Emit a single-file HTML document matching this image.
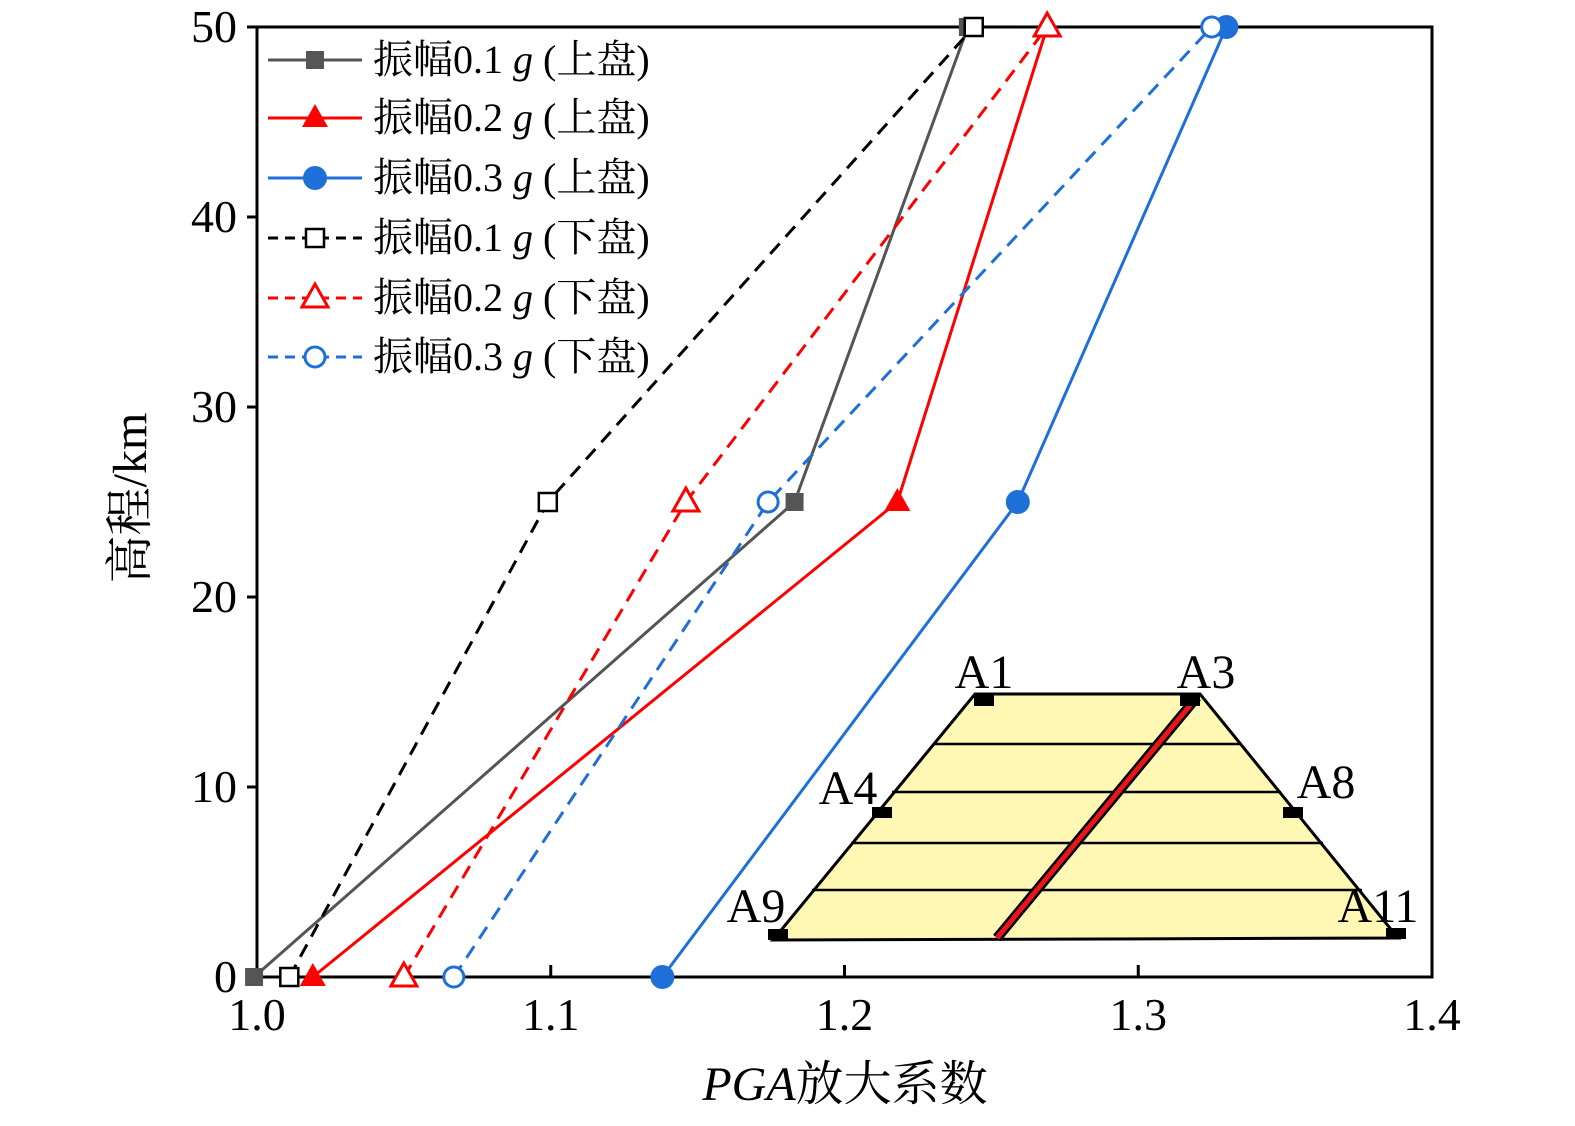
<!DOCTYPE html>
<html><head><meta charset="utf-8"><style>
body{margin:0;background:#fff}
svg text{font-family:"Liberation Serif","Noto Serif CJK SC",serif}
</style></head><body>
<svg id="c" width="1575" height="1121" xmlns="http://www.w3.org/2000/svg"></svg>
<script>
const heights=[0,25,50];
const seriesNames=["振幅0.1 g (上盘)","振幅0.2 g (上盘)","振幅0.3 g (上盘)","振幅0.1 g (下盘)","振幅0.2 g (下盘)","振幅0.3 g (下盘)"];
const up01=[0.999,1.183,1.242];
const up02=[1.019,1.218,1.269];
const up03=[1.138,1.259,1.330];
const dn01=[1.011,1.099,1.244];
const dn02=[1.050,1.146,1.269];
const dn03=[1.067,1.174,1.325];
const xTicks=[1.0,1.1,1.2,1.3,1.4];
const xTickLabels=["1.0","1.1","1.2","1.3","1.4"];
const yTicks=[0,10,20,30,40,50];

const NS="http://www.w3.org/2000/svg";
const svg=document.getElementById('c');
const X0=257,X1=1432,Y0=977,Y1=27;
const sx=v=>X0+(v-1.0)/0.4*(X1-X0);
const sy=v=>Y0-(v/50)*(Y0-Y1);
function el(t,a,p){const e=document.createElementNS(NS,t);for(const k in a)e.setAttribute(k,a[k]);(p||svg).appendChild(e);return e;}

const fr=el('rect',{x:X0,y:Y1,width:X1-X0,height:Y0-Y1,fill:'none',stroke:'#000','stroke-width':3});


xTicks.forEach((t,i)=>{
  const l=el('line',{x1:sx(t),x2:sx(t),y1:Y0,y2:Y0-12,stroke:'#000','stroke-width':3});
  
  
  const tx=el('text',{x:sx(t),y:1030,'font-size':46,'text-anchor':'middle'});
  tx.textContent=xTickLabels[i];
  
  
});
yTicks.forEach(t=>{
  const l=el('line',{x1:X0,x2:X0-10,y1:sy(t),y2:sy(t),stroke:'#000','stroke-width':3});
  
  
  const tx=el('text',{x:237,y:sy(t)+15,'font-size':46,'text-anchor':'end'});
  tx.textContent=String(t);
  
  
});
const xt=el('text',{x:845,y:1100,'font-size':48,'text-anchor':'middle'});
xt.innerHTML='<tspan font-style="italic">PGA</tspan>放大系数';


const yt=el('text',{x:0,y:0,'font-size':48,'text-anchor':'middle',transform:'translate(146,498) rotate(-90)'});
yt.textContent='高程/km';



const g=el('g',{});


el('polygon',{points:'975,694 1200,694 1398,938 773,940',fill:'#fff8b4',stroke:'#000','stroke-width':3},g);
[[933,744,1240,744],[892,792,1281,792],[851,843,1323,843],[812,890,1362,890]].forEach(p=>el('line',{x1:p[0],y1:p[1],x2:p[2],y2:p[3],stroke:'#000','stroke-width':2.5},g));
el('line',{x1:1197,y1:697,x2:997,y2:938,stroke:'#000','stroke-width':10},g);
el('line',{x1:1197,y1:697,x2:997,y2:938,stroke:'#e8161b','stroke-width':5},g);
[[984,700,'A1',984,688],[1190,700,'A3',1206,688],[882,812,'A4',848,804],[1293,812,'A8',1326,798],[778,934,'A9',756,922],[1396,933,'A11',1378,922]].forEach(m=>{
  const r=el('rect',{x:m[0]-10,y:m[1]-5,width:20,height:11,fill:'#000'},g);
  
  
  const t=el('text',{x:m[3],y:m[4],'font-size':48,'text-anchor':'middle'},g);
  t.textContent=m[2];
  
  
});

const series=[
 {d:up01,c:'#555555',dash:null,m:'sq',f:true},
 {d:up02,c:'#ff0000',dash:null,m:'tri',f:true},
 {d:up03,c:'#1f6fd8',dash:null,m:'ci',f:true},
 {d:dn01,c:'#000000',dash:'14,9',m:'sq',f:false},
 {d:dn02,c:'#ff0000',dash:'14,9',m:'tri',f:false},
 {d:dn03,c:'#1f6fd8',dash:'14,9',m:'ci',f:false}];
function marker(type,x,y,c,filled,parent){
  const a={fill:filled?c:'#fff',stroke:filled?'none':c,'stroke-width':3};
  let e;
  if(type==='sq'){e=el('rect',Object.assign({x:x-9,y:y-9,width:18,height:18},filled?{fill:c}:{fill:'#fff',stroke:'#000','stroke-width':2.5}),parent);}
  else if(type==='tri'){e=el('polygon',Object.assign({points:`${x},${y-14} ${x-13},${y+9} ${x+13},${y+9}`},a),parent);}
  else {e=el('circle',Object.assign({cx:x,cy:y,r:filled?12:10},a),parent);}
  return e;
}
series.forEach((s,i)=>{
  const sg=el('g',{});
  
  
  const pts=s.d.map((v,j)=>sx(v)+','+sy(heights[j])).join(' ');
  const pl=el('polyline',{points:pts,fill:'none',stroke:s.c,'stroke-width':3,'stroke-dasharray':s.dash||'none'},sg);
  
  
  s.d.forEach((v,j)=>{
    const m=marker(s.m,sx(v),sy(heights[j]),s.c,s.f,sg);
    
    
  });
  const ly=[60,118,178,238,298,357][i];
  const lg=el('g',{});
  
  
  el('line',{x1:268,x2:362,y1:ly,y2:ly,stroke:s.c,'stroke-width':3,'stroke-dasharray':s.dash?'10,7':'none'},lg);
  marker(s.m,315,ly,s.c,s.f,lg);
  const t=el('text',{x:373,y:ly+13,'font-size':40},lg);
  const parts=seriesNames[i].split(' g ');
  t.innerHTML=parts[0]+' <tspan font-style="italic">g</tspan> '+parts[1];
});
</script>
</body></html>
